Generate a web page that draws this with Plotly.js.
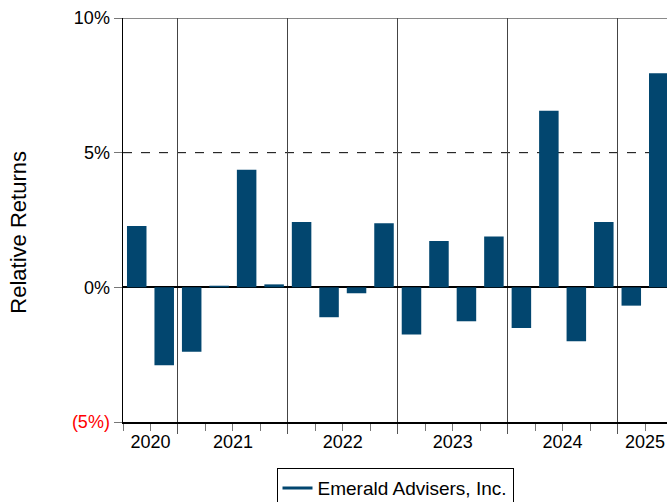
<!DOCTYPE html>
<html>
<head>
<meta charset="utf-8">
<script src="https://cdn.plot.ly/plotly-3.0.1.min.js"></script>
<style>html,body{margin:0;padding:0;background:#fff;overflow:hidden;}#chart{width:667px;height:530px;}</style>
</head>
<body>
<div id="chart"></div>
<script>
// Quarterly relative returns, 2020 Q3 .. 2025 Q2
var quarters = ["2020 Q3","2020 Q4","2021 Q1","2021 Q2","2021 Q3","2021 Q4","2022 Q1","2022 Q2","2022 Q3","2022 Q4","2023 Q1","2023 Q2","2023 Q3","2023 Q4","2024 Q1","2024 Q2","2024 Q3","2024 Q4","2025 Q1","2025 Q2"];
var returns = [2.28, -2.89, -2.39, 0.06, 4.37, 0.11, 2.43, -1.11, -0.22, 2.38, -1.75, 1.72, -1.26, 1.89, -1.51, 6.56, -2.0, 2.43, -0.68, 7.95];
var years = ["2020","2021","2022","2023","2024","2025"];
var yTickVals = [-5, 0, 5, 10];
var yTickText = ['<span style="color:#ff0000">(5%)</span>', "0%", "5%", "10%"];
var seriesName = "Emerald Advisers, Inc.";
var yTitle = "Relative Returns";

var barColor = "#02466f";
var xIdx = quarters.map(function(q, i){ return i; });

// year label positions: middle of each year's quarters; boundaries between years
var yearCenters = [], yearBounds = [];
years.forEach(function(y){
  var idx = [];
  quarters.forEach(function(q, i){ if (q.indexOf(y) === 0) idx.push(i); });
  yearCenters.push((idx[0] + idx[idx.length-1]) / 2);
  if (idx[0] > 0) yearBounds.push(idx[0] - 0.5);
});

var traces = [
  {type:"bar", x:xIdx, y:returns, marker:{color:barColor}, showlegend:false, hoverinfo:"y"},
  {type:"scatter", mode:"lines", x:[null], y:[null], name:seriesName, line:{color:barColor, width:3}, xaxis:"x2"}
];

var shapes = [
  {type:"line", xref:"paper", yref:"y", x0:0, x1:1, y0:5, y1:5, line:{color:"#000", width:1, dash:"dash"}, layer:"below"},
  {type:"line", xref:"paper", yref:"y", x0:0, x1:1, y0:10, y1:10, line:{color:"#8a8a8a", width:2}, layer:"below"}
];

var layout = {
  width:667, height:530,
  margin:{l:123, r:0, t:18, b:108},
  paper_bgcolor:"#fff", plot_bgcolor:"#fff",
  font:{family:"Liberation Sans, Arial, sans-serif", color:"#000", size:18},
  bargap:0.29,
  showlegend:true,
  legend:{x:0.5, xanchor:"center", y:-0.114, yanchor:"top", orientation:"h",
          bordercolor:"#000", borderwidth:1, font:{size:19}, bgcolor:"#fff"},
  xaxis:{range:[-0.5, 19.3], tickmode:"array", tickvals:yearBounds, showticklabels:false,
         ticks:"outside", ticklen:10, tickcolor:"#555", tickwidth:1,
         showgrid:true, gridcolor:"#444", gridwidth:1, zeroline:false,
         showline:true, linecolor:"#000", linewidth:1.5,
         minor:{tickmode:"linear", tick0:0.5, dtick:1, ticks:"outside", ticklen:7, tickcolor:"#777", showgrid:false},
         fixedrange:true},
  xaxis2:{overlaying:"x", matches:"x", side:"bottom", tickmode:"array", tickvals:yearCenters, ticktext:years,
          ticks:"", showgrid:false, zeroline:false, showline:false, tickfont:{size:18}, ticklabelstandoff:7},
  yaxis:{range:[-5, 10], tickmode:"array", tickvals:yTickVals, ticktext:yTickText,
         ticks:"outside", ticklen:8, tickcolor:"#777", tickfont:{size:18},
         showgrid:false, zeroline:true, zerolinecolor:"#000", zerolinewidth:2,
         showline:true, linecolor:"#000", linewidth:1.5},
  annotations:[{text:yTitle, textangle:-90, xref:"paper", yref:"paper", x:-0.192, y:0.47,
                xanchor:"center", yanchor:"middle", showarrow:false, font:{size:22}}],
  shapes:shapes
};

Plotly.newPlot("chart", traces, layout, {displayModeBar:false, staticPlot:true});
</script>
</body>
</html>
